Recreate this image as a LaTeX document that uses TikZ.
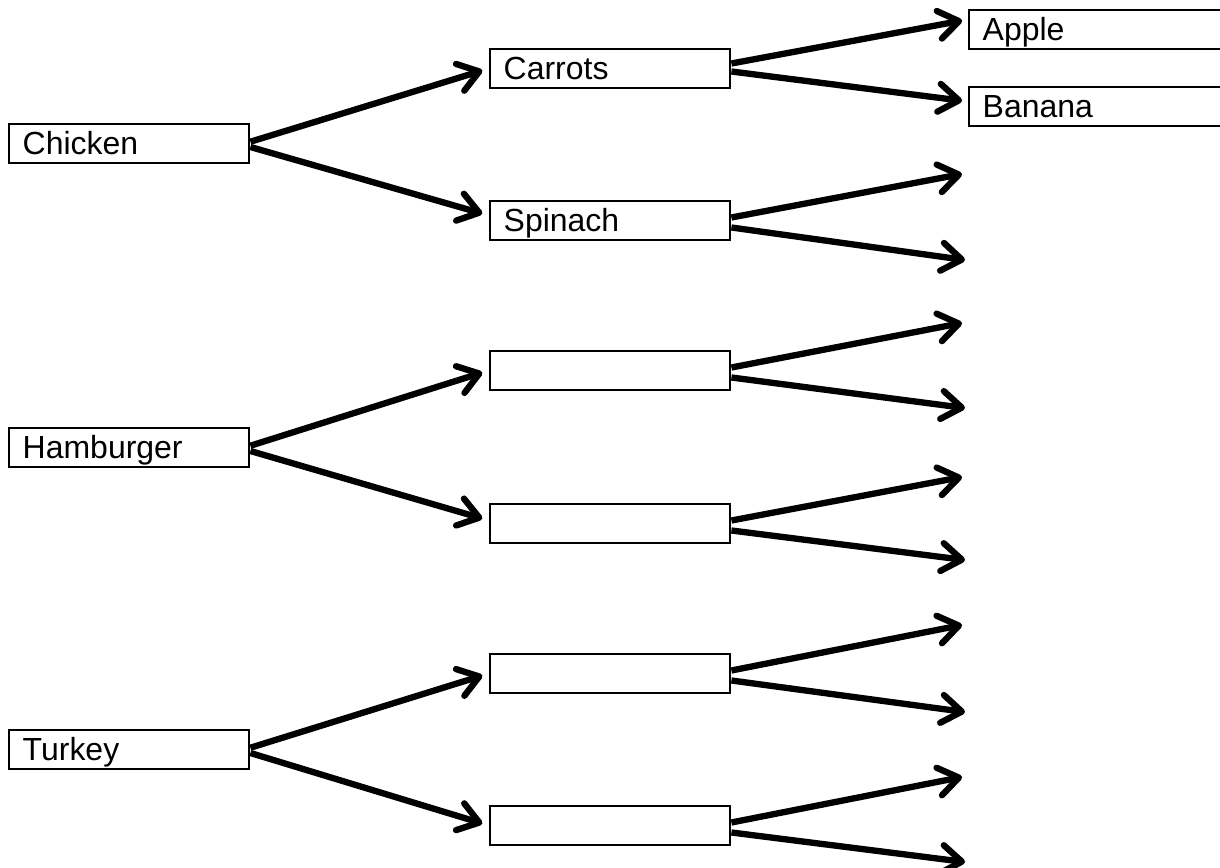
\documentclass[tikz,border=0pt]{standalone}
\usepackage{fontspec}
\setmainfont{Liberation Sans}
\usetikzlibrary{arrows.meta}

\begin{document}
\begin{tikzpicture}[x=0.02cm, y=-0.02cm,
    food/.style={draw, line width=1.4pt, anchor=north west, minimum width=4.8cm,
        minimum height=0.77cm, text width=4.26cm, align=left, inner xsep=0.27cm,
        inner ysep=0pt, text height=13pt, text depth=0pt,
        font=\fontsize{18.2}{21}\selectfont},
    fruit/.style={food, minimum width=6cm, text width=5.46cm},
    arr/.style={line width=3.6pt, -{Straight Barb[length=0.4cm, width=0.56cm, round]}},
    tobox/.style={arr, shorten >=0.14cm}]
    \useasboundingbox (0,0) rectangle (1220,867);
    % First column
    \node[food] (chicken) at (8,123) {Chicken};
    \node[food] (hamburger) at (8,427) {Hamburger};
    \node[food] (turkey) at (8,729) {Turkey};
    % Second column
    \node[food] (carrots) at (489,48) {Carrots};
    \node[food] (spinach) at (489,200) {Spinach};
    \node[food] (hamtop) at (489,350) {};
    \node[food] (hambot) at (489,503) {};
    \node[food] (turtop) at (489,653) {};
    \node[food] (turbot) at (489,805) {};
    % Third column
    \node[fruit] (apple) at (968,9) {Apple};
    \node[fruit] (banana) at (968,86) {Banana};
    % Open ends
    \coordinate (sp1) at (962,174);
    \coordinate (sp2) at (965,260);
    \coordinate (ht1) at (962,323);
    \coordinate (ht2) at (965,408);
    \coordinate (hb1) at (962,477);
    \coordinate (hb2) at (965,560);
    \coordinate (tt1) at (962,625);
    \coordinate (tt2) at (965,712);
    \coordinate (tb1) at (962,777);
    \coordinate (tb2) at (965,862);
    % Arrows
    \draw[tobox] ([yshift=1pt]chicken.east) -- (carrots.west);
    \draw[tobox] ([yshift=-2pt]chicken.east) -- ([yshift=0.1cm]spinach.west);
    \draw[tobox] ([yshift=1pt]hamburger.east) -- (hamtop.west);
    \draw[tobox] ([yshift=-2pt]hamburger.east) -- ([yshift=0.06cm]hambot.west);
    \draw[tobox] ([yshift=1pt]turkey.east) -- (turtop.west);
    \draw[tobox] ([yshift=-2pt]turkey.east) -- (turbot.west);
    \draw[tobox, shorten >=0.12cm] ([yshift=0.1cm]carrots.east) -- ([yshift=0.2cm]apple.west);
    \draw[tobox, shorten >=0.12cm] ([yshift=-0.06cm]carrots.east) -- ([yshift=0.1cm]banana.west);
    \draw[arr] ([yshift=0.06cm]spinach.east) -- (sp1);
    \draw[arr] ([yshift=-0.14cm]spinach.east) -- (sp2);
    \draw[arr] ([yshift=0.06cm]hamtop.east) -- (ht1);
    \draw[arr] ([yshift=-0.14cm]hamtop.east) -- (ht2);
    \draw[arr] ([yshift=0.06cm]hambot.east) -- (hb1);
    \draw[arr] ([yshift=-0.14cm]hambot.east) -- (hb2);
    \draw[arr] ([yshift=0.06cm]turtop.east) -- (tt1);
    \draw[arr] ([yshift=-0.14cm]turtop.east) -- (tt2);
    \draw[arr] ([yshift=0.06cm]turbot.east) -- (tb1);
    \draw[arr] ([yshift=-0.14cm]turbot.east) -- (tb2);
\end{tikzpicture}
\end{document}
